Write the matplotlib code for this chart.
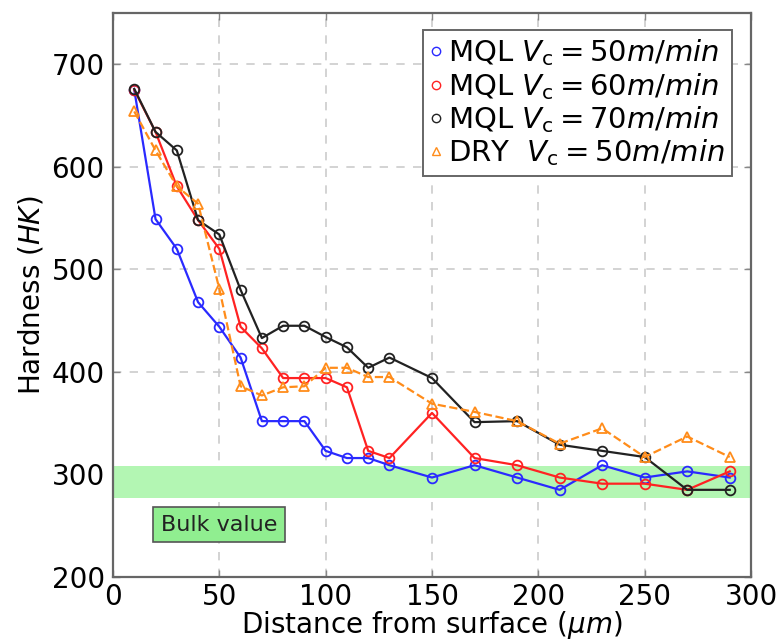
import matplotlib
matplotlib.use("Agg")
import matplotlib.pyplot as plt
from matplotlib.lines import Line2D

# Distance from the machined surface (um)
depth = [10, 20, 30, 40, 50, 60, 70, 80, 90, 100, 110, 120, 130,
         150, 170, 190, 210, 230, 250, 270, 290]

# Knoop hardness profiles
mql_50 = [675, 549, 520, 468, 444, 414, 352, 352, 352, 323, 316, 316, 309,
          297, 309, 297, 285, 309, 297, 303, 297]
mql_60 = [675, 634, 581, 548, 520, 444, 423, 394, 394, 394, 385, 323, 316,
          360, 316, 309, 297, 291, 291, 285, 303]
mql_70 = [676, 634, 616, 548, 534, 480, 433, 445, 445, 434, 424, 404, 414,
          394, 351, 352, 329, 323, 317, 285, 285]
dry_50 = [654, 616, 581, 564, 481, 386, 377, 385, 386, 404, 404, 395, 395,
          369, 361, 352, 330, 345, 317, 337, 317]

labels = [r"MQL $V_{\rm c}= 50m/min$",
          r"MQL $V_{\rm c}= 60m/min$",
          r"MQL $V_{\rm c}= 70m/min$",
          r"DRY  $V_{\rm c}= 50m/min$"]

bulk_range = [277, 308]
bulk_label = "Bulk value"
bulk_label_pos = [50, 251]

x_ticks = [0, 50, 100, 150, 200, 250, 300]
y_ticks = [200, 300, 400, 500, 600, 700]

plt.rcParams["font.family"] = ["DejaVu Sans"]
plt.rcParams["mathtext.fontset"] = "dejavusans"

fig = plt.figure(figsize=(7.81, 6.41), dpi=100)
ax = fig.add_axes([113 / 781, 1 - 577 / 641, (751 - 113) / 781, (577 - 13) / 641])

ax.axhspan(bulk_range[0], bulk_range[1], color="#b3f6b3", lw=0, zorder=1)

styles = [
    dict(color="#2a2aff", ls="-", marker="o"),
    dict(color="#ff2222", ls="-", marker="o"),
    dict(color="#222222", ls="-", marker="o"),
    dict(color="#ff8c1a", ls="--", marker="^"),
]
series = [mql_50, mql_60, mql_70, dry_50]

for vals, st in zip(series, styles):
    ax.plot(depth, vals, color=st["color"], ls=st["ls"], lw=1.6,
            marker=st["marker"], ms=7, mfc="none", mec=st["color"], mew=1.3,
            zorder=3)

ax.text(bulk_label_pos[0], bulk_label_pos[1], bulk_label, fontsize=16,
        color="#222222", ha="center", va="center", zorder=4,
        bbox=dict(boxstyle="square,pad=0.35", fc="#90ee90", ec="#555555", lw=1.2))

ax.set_xlim(0, 300)
ax.set_ylim(200, 750)
ax.set_xticks(x_ticks)
ax.set_yticks(y_ticks)
ax.tick_params(direction="in", length=5, width=1, color="#888888",
               labelsize=20, top=True, right=True, pad=4)
ax.tick_params(axis="y", pad=6)
ax.grid(True, ls=(0, (5, 5)), color="#cccccc", lw=1.2, zorder=0)
ax.set_axisbelow(True)
for s in ax.spines.values():
    s.set_color("#666666")
    s.set_linewidth(1.6)

ax.set_xlabel(r"Distance from surface ($\mu m$)", fontsize=20, labelpad=-1)
ax.set_ylabel(r"Hardness ($HK$)", fontsize=20, labelpad=4)

handles = [Line2D([], [], ls="none", marker=st["marker"], ms=6, mfc="none",
                  mec=st["color"], mew=1.0) for st in styles]
leg = ax.legend(handles, labels, loc="upper right",
                bbox_to_anchor=(732 / 781, 1 - 30 / 641),
                bbox_transform=fig.transFigure, fontsize=21, frameon=True,
                fancybox=False, framealpha=1, edgecolor="#666666",
                handlelength=0.4, handletextpad=0.2, labelspacing=0.09,
                borderpad=0.25, borderaxespad=0)
leg.get_frame().set_linewidth(1.4)

fig.savefig("out.png", dpi=100)
